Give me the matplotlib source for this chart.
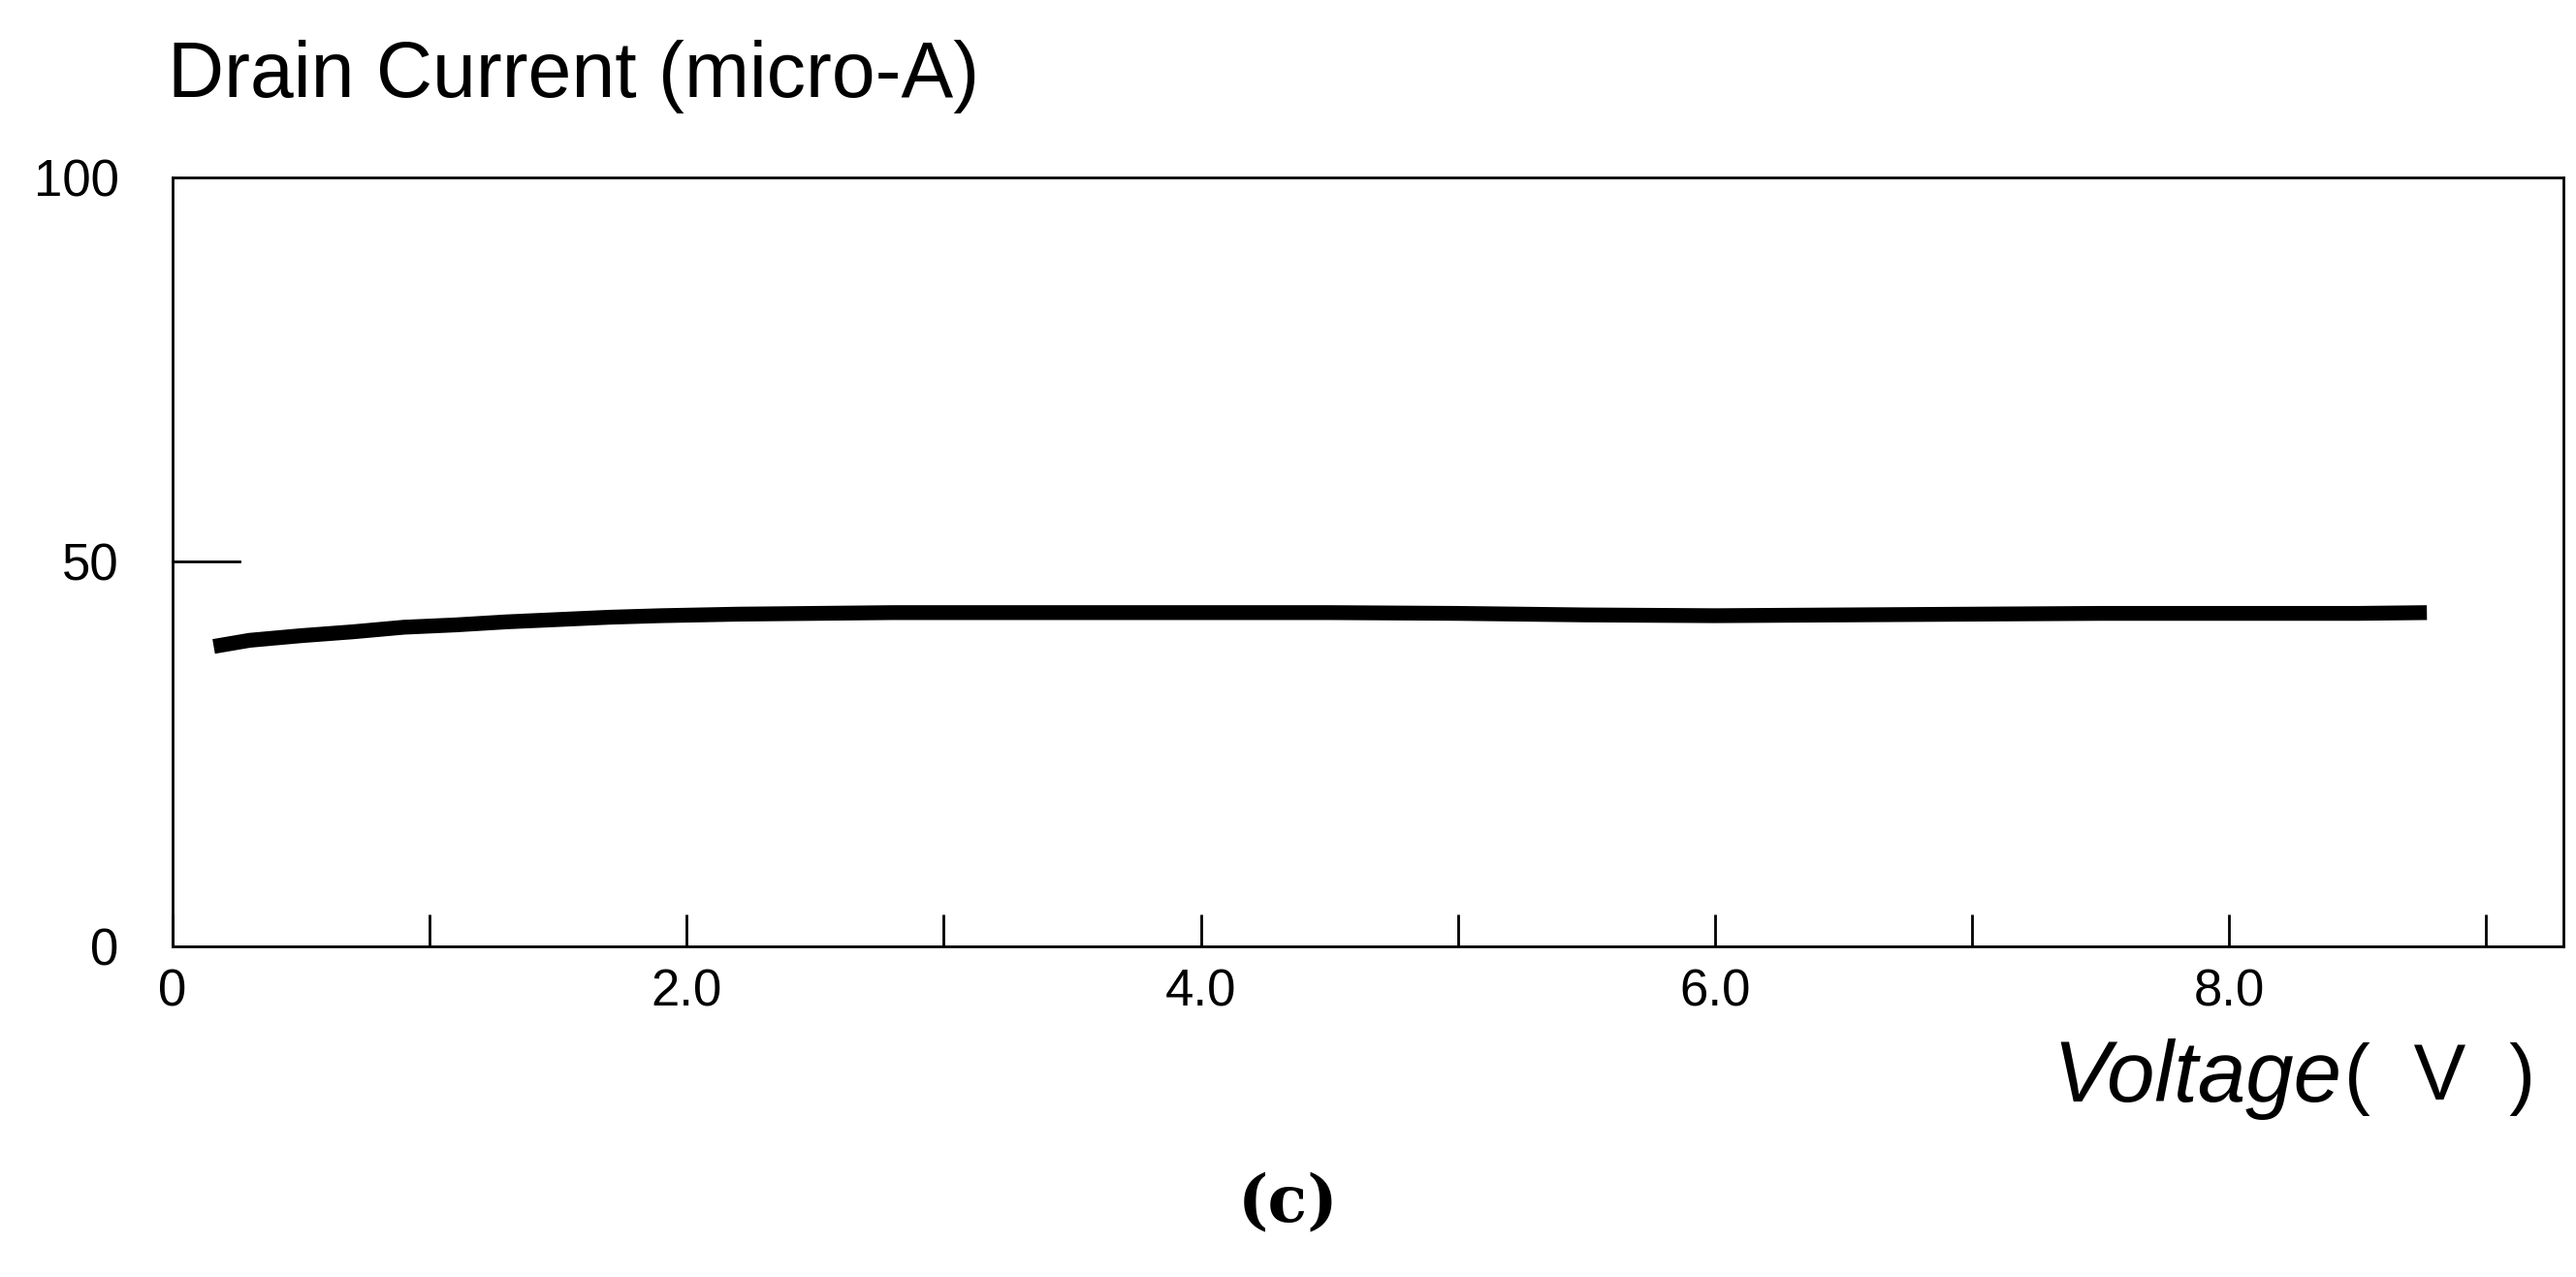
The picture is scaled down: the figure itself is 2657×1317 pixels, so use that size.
import matplotlib
matplotlib.use("Agg")
import matplotlib.pyplot as plt
import numpy as np

voltage = [0.16, 0.3, 0.5, 0.7, 0.9, 1.1, 1.3, 1.5, 1.7, 1.9, 2.2, 2.5, 2.8, 3.2, 3.6, 4.0, 4.5, 5.0, 5.5, 6.0, 6.5, 7.0, 7.5, 8.0, 8.5, 8.77]
current = [39.0, 39.8, 40.4, 40.9, 41.5, 41.8, 42.2, 42.5, 42.8, 43.0, 43.2, 43.3, 43.4, 43.4, 43.4, 43.4, 43.4, 43.3, 43.1, 43.0, 43.1, 43.2, 43.3, 43.3, 43.3, 43.4]
xtick_major = [0, 2, 4, 6, 8]
xtick_labels = ["0", "2.0", "4.0", "6.0", "8.0"]
xtick_minor = [1, 3, 5, 7, 9]
ytick_vals = [0, 50, 100]

plt.rcParams['font.family'] = ['Liberation Sans', 'DejaVu Sans']
fig = plt.figure(figsize=(26.57, 13.17), dpi=100)
ax = fig.add_axes([0.067, 0.259, 0.928, 0.602])
ax.plot(voltage, current, color='black', lw=11, solid_capstyle='butt')
ax.set_xlim(0, 9.3)
ax.set_ylim(0, 100)
ax.set_xticks(xtick_major)
ax.set_xticklabels(xtick_labels, fontsize=38)
ax.set_xticks(xtick_minor, minor=True)
ax.tick_params(axis='x', which='both', direction='in', length=24, width=2, pad=16)
ax.set_yticks(ytick_vals)
ax.set_yticklabels([str(v) for v in ytick_vals], fontsize=38)
ax.tick_params(axis='y', direction='in', length=0, pad=40)
ax.plot([0, 0.26], [50, 50], color='black', lw=2, clip_on=False)
for s in ax.spines.values():
    s.set_linewidth(2)
fig.text(0.065, 0.94, "Drain Current (micro-A)", fontsize=58, va='center', ha='left')
fig.text(0.797, 0.155, "Voltage", fontsize=64, style='italic', va='center', ha='left')
fig.text(0.91, 0.155, "(  V  )", fontsize=58, va='center', ha='left')
fig.text(0.5, 0.058, "(c)", fontsize=48, family='DejaVu Serif', fontweight='bold', ha='center', va='center')
fig.savefig("out.png", dpi=100)
